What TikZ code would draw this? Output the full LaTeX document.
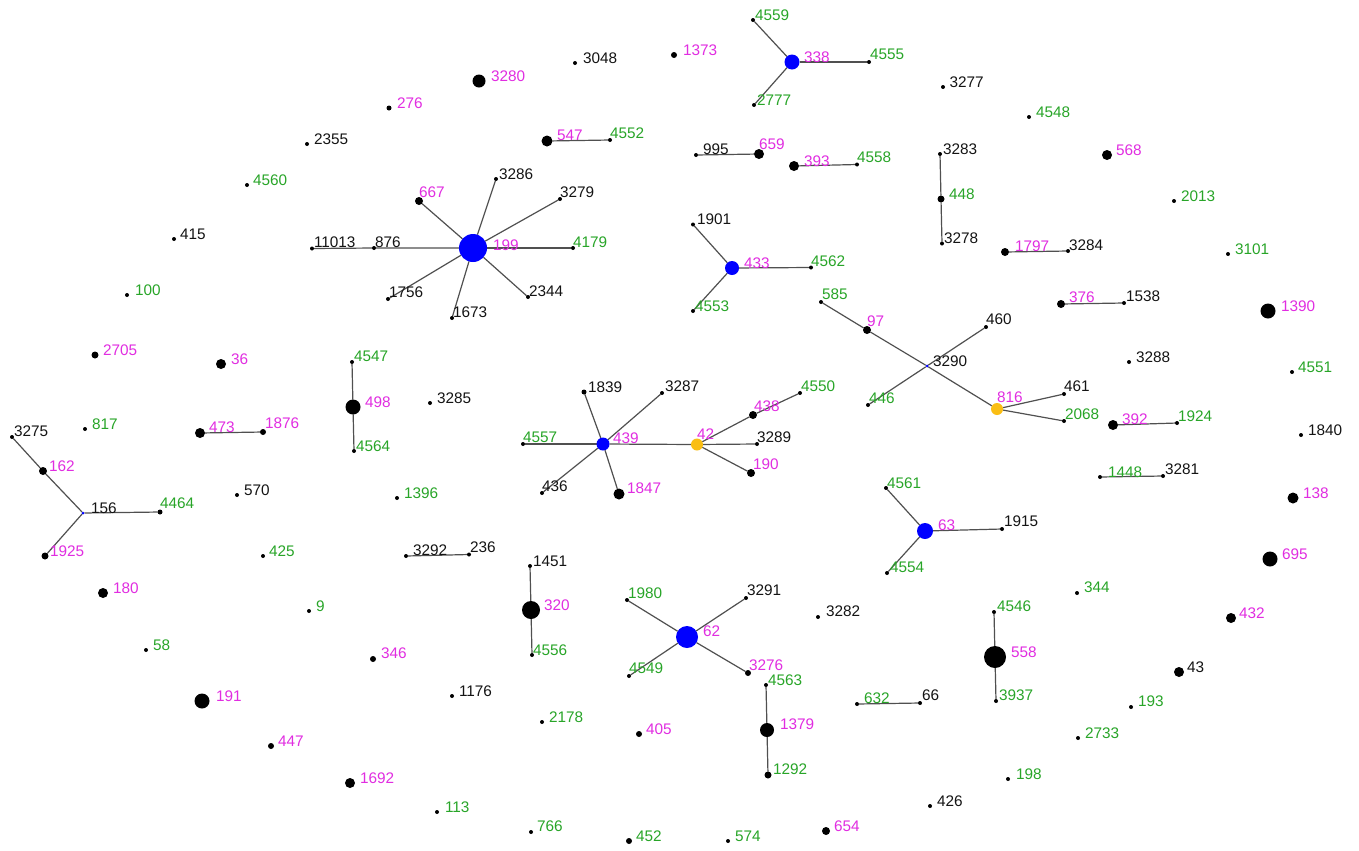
\documentclass[tikz,border=0pt]{standalone}
\usepackage{fontspec}
\setmainfont{Liberation Sans}
\usetikzlibrary{backgrounds}
\definecolor{labmag}{RGB}{225,45,225}
\definecolor{labgrn}{RGB}{40,165,40}
\definecolor{labblk}{RGB}{20,20,20}
\definecolor{hubblue}{RGB}{0,0,255}
\definecolor{hubgold}{RGB}{250,190,20}
\definecolor{edgegray}{RGB}{80,80,80}
\newcommand{\labfont}{\fontsize{11.5}{13}\selectfont}
\tikzset{
  vtx/.style={circle, fill=black, draw=none, inner sep=0pt, outer sep=0pt, minimum size=#1*0.75pt},
  bl/.style={fill=hubblue},
  gd/.style={fill=hubgold},
  lbl/.style={anchor=base west, inner sep=0pt, outer sep=0pt, font=\labfont},
  lm/.style n args={3}{append after command={node[lbl, text=labmag] at ([shift={(#1,#2)}]\tikzlastnode.center) {#3}}},
  lg/.style n args={3}{append after command={node[lbl, text=labgrn] at ([shift={(#1,#2)}]\tikzlastnode.center) {#3}}},
  lk/.style n args={3}{append after command={node[lbl, text=labblk] at ([shift={(#1,#2)}]\tikzlastnode.center) {#3}}},
  edge/.style={draw=edgegray, line width=0.9pt}
}
\begin{document}
\begin{tikzpicture}[x=0.75pt, y=-0.75pt]
\useasboundingbox (0,0) rectangle (1359,850);

% isolated vertices
\node[vtx=4, lk={7}{0}{2355}] (n2355) at (307,144) {};
\node[vtx=4, lg={6}{0}{4560}] (n4560) at (247,185) {};
\node[vtx=4, lk={6}{0}{415}] (n415) at (174,239) {};
\node[vtx=5, lm={8}{0}{276}] (n276) at (389,108) {};
\node[vtx=13, lm={12}{0}{3280}] (n3280) at (479,81) {};
\node[vtx=4, lk={8}{0}{3048}] (n3048) at (575,63) {};
\node[vtx=6, lm={9}{0}{1373}] (n1373) at (674,55) {};
\node[vtx=4, lg={8}{0}{100}] (n100) at (127,295) {};
\node[vtx=7, lm={8}{0}{2705}] (n2705) at (95,355) {};
\node[vtx=10, lm={10}{0}{36}] (n36) at (221,364) {};
\node[vtx=4, lg={7}{0}{817}] (n817) at (85,429) {};
\node[vtx=4, lk={7}{0}{570}] (n570) at (237,495) {};
\node[vtx=4, lg={6}{0}{425}] (n425) at (263,556) {};
\node[vtx=4, lk={7}{0}{3285}] (n3285) at (430,403) {};
\node[vtx=4, lg={7}{0}{1396}] (n1396) at (397,498) {};
\node[vtx=10, lm={10}{0}{180}] (n180) at (103,593) {};
\node[vtx=4, lg={7}{0}{9}] (n9) at (309,611) {};
\node[vtx=4, lg={7}{0}{58}] (n58) at (146,650) {};
\node[vtx=15, lm={14}{0}{191}] (n191) at (202,701) {};
\node[vtx=6, lm={7}{0}{447}] (n447) at (271,746) {};
\node[vtx=6, lm={8}{-1}{346}] (n346) at (373,659) {};
\node[vtx=4, lk={7}{0}{1176}] (n1176) at (452,696) {};
\node[vtx=4, lg={7}{0}{2178}] (n2178) at (542,722) {};
\node[vtx=6, lm={7}{0}{405}] (n405) at (639,734) {};
\node[vtx=10, lm={10}{0}{1692}] (n1692) at (350,783) {};
\node[vtx=4, lg={8}{0}{113}] (n113) at (437,812) {};
\node[vtx=4, lg={6}{-1}{766}] (n766) at (531,832) {};
\node[vtx=6, lg={7}{0}{452}] (n452) at (629,841) {};
\node[vtx=4, lg={7}{0}{574}] (n574) at (728,841) {};
\node[vtx=8, lm={8}{0}{654}] (n654) at (826,831) {};
\node[vtx=4, lk={7}{0}{426}] (n426) at (930,806) {};
\node[vtx=4, lg={8}{0}{198}] (n198) at (1008,779) {};
\node[vtx=4, lk={8}{-1}{3282}] (n3282) at (818,617) {};
\node[vtx=4, lg={7}{-1}{344}] (n344) at (1077,593) {};
\node[vtx=10, lm={8}{0}{432}] (n432) at (1231,618) {};
\node[vtx=10, lk={8}{0}{43}] (n43) at (1179,672) {};
\node[vtx=4, lg={7}{-1}{193}] (n193) at (1131,707) {};
\node[vtx=4, lg={7}{0}{2733}] (n2733) at (1078,738) {};
\node[vtx=4, lk={6.5}{0}{3277}] (n3277) at (943,87) {};
\node[vtx=4, lg={7}{0}{4548}] (n4548) at (1029,117) {};
\node[vtx=10, lm={9}{0}{568}] (n568) at (1107,155) {};
\node[vtx=4, lg={7}{0}{2013}] (n2013) at (1174,201) {};
\node[vtx=4, lg={7}{0}{3101}] (n3101) at (1228,254) {};
\node[vtx=15, lm={13}{0}{1390}] (n1390) at (1268,311) {};
\node[vtx=4, lk={7}{0}{3288}] (n3288) at (1129,362) {};
\node[vtx=4, lg={6}{0}{4551}] (n4551) at (1292,372) {};
\node[vtx=4, lk={7}{0}{1840}] (n1840) at (1301,435) {};
\node[vtx=11, lm={10}{0}{138}] (n138) at (1293,498) {};
\node[vtx=15, lm={12}{0}{695}] (n695) at (1270,559) {};

% star around 199
\node[vtx=28, bl, lm={20}{2}{199}] (n199) at (473,248) {};
\node[vtx=4, lk={2}{-1}{11013}] (n11013) at (312,248.5) {};
\node[vtx=4, lk={1}{-1}{876}] (n876) at (374,248) {};
\node[vtx=8, lm={0}{-4}{667}] (n667) at (419,201) {};
\node[vtx=4, lk={3}{0}{3286}] (n3286) at (496,179) {};
\node[vtx=4, lk={0}{-2}{3279}] (n3279) at (560,199) {};
\node[vtx=4, lg={0}{-1}{4179}] (n4179) at (573,248) {};
\node[vtx=4, lk={1}{-1}{2344}] (n2344) at (528,297) {};
\node[vtx=4, lk={1}{-1}{1673}] (n1673) at (452,318) {};
\node[vtx=4, lk={1}{-2}{1756}] (n1756) at (388,299) {};

% small components, top
\node[vtx=11, lm={10}{-1}{547}] (n547) at (547,141) {};
\node[vtx=4, lg={0}{-2}{4552}] (n4552) at (610,140) {};
\node[vtx=15, bl, lm={12}{0}{338}] (n338) at (792,62) {};
\node[vtx=4, lg={2}{0}{4559}] (n4559) at (753,20) {};
\node[vtx=4, lg={1}{-2.5}{4555}] (n4555) at (869,62) {};
\node[vtx=4, lg={3}{0}{2777}] (n2777) at (754,105) {};
\node[vtx=4, lk={7}{-1}{995}] (n995) at (696,155) {};
\node[vtx=10, lm={0}{-5}{659}] (n659) at (759,154) {};
\node[vtx=10, lm={10}{0}{393}] (n393) at (794,166) {};
\node[vtx=4, lg={0}{-2}{4558}] (n4558) at (857,164.5) {};
\node[vtx=4, lk={3}{0}{3283}] (n3283) at (940,154) {};
\node[vtx=7, lg={8}{0}{448}] (n448) at (941,199) {};
\node[vtx=4, lk={2}{0}{3278}] (n3278) at (942,243.5) {};
\node[vtx=8, lm={10}{-1}{1797}] (n1797) at (1005,252) {};
\node[vtx=4, lk={1}{-1}{3284}] (n3284) at (1068,251) {};
\node[vtx=14, bl, lm={12}{0}{433}] (n433) at (732,268) {};
\node[vtx=4, lk={4}{0}{1901}] (n1901) at (693,224.5) {};
\node[vtx=4, lg={0}{-1}{4562}] (n4562) at (811,267.5) {};
\node[vtx=4, lg={2}{0}{4553}] (n4553) at (693,311) {};
\node[vtx=8, lm={8}{-2}{376}] (n376) at (1061,304) {};
\node[vtx=4, lk={2}{-2}{1538}] (n1538) at (1124,303) {};

% chain through 3290
\node[vtx=3, bl, lk={6}{0}{3290}] (n3290) at (927,366) {};
\node[vtx=4, lg={1}{-3}{585}] (n585) at (821,302) {};
\node[vtx=8, lm={0}{-4}{97}] (n97) at (867,330) {};
\node[vtx=4, lk={0}{-2.5}{460}] (n460) at (986,327) {};
\node[vtx=4, lg={1}{-2}{446}] (n446) at (868,405) {};
\node[vtx=12, gd, lm={0}{-7}{816}] (n816) at (997,409) {};
\node[vtx=4, lk={0}{-3}{461}] (n461) at (1064,394) {};
\node[vtx=4, lg={1}{-2}{2068}] (n2068) at (1064,421) {};
\node[vtx=10, lm={9}{-1}{392}] (n392) at (1113,425) {};
\node[vtx=4, lg={1}{-2}{1924}] (n1924) at (1177,423) {};
\node[vtx=4, lg={8}{0}{1448}] (n1448) at (1100,477) {};
\node[vtx=4, lk={2}{-2}{3281}] (n3281) at (1163,476) {};

% star around 439 and 42
\node[vtx=13, bl, lm={10}{-1}{439}] (n439) at (603,444) {};
\node[vtx=5, lk={4}{0}{1839}] (n1839) at (584,392) {};
\node[vtx=4, lk={3}{-2}{3287}] (n3287) at (662,393) {};
\node[vtx=4, lg={0}{-2}{4557}] (n4557) at (523,444) {};
\node[vtx=4, lk={0}{-2}{436}] (n436) at (542,493) {};
\node[vtx=11, lm={8}{-1}{1847}] (n1847) at (619,494) {};
\node[vtx=12, gd, lm={0}{-5.5}{42}] (n42) at (697,444.5) {};
\node[vtx=8, lm={1}{-4}{438}] (n438) at (753,415) {};
\node[vtx=4, lg={1}{-2}{4550}] (n4550) at (800,393) {};
\node[vtx=4, lk={0}{-2}{3289}] (n3289) at (757,444) {};
\node[vtx=8, lm={2}{-4}{190}] (n190) at (751,473) {};

% star around 63
\node[vtx=16, bl, lm={13}{-1}{63}] (n63) at (925,531) {};
\node[vtx=4, lg={1}{0}{4561}] (n4561) at (886,488) {};
\node[vtx=4, lk={2}{-3}{1915}] (n1915) at (1002,529) {};
\node[vtx=4, lg={3}{-1}{4554}] (n4554) at (887,573) {};

% left side components
\node[vtx=10, lm={9}{-1}{473}] (n473) at (200,433) {};
\node[vtx=6, lm={2}{-4}{1876}] (n1876) at (263,432) {};
\node[vtx=15, lm={12}{0}{498}] (n498) at (353,407) {};
\node[vtx=4, lg={2}{-1}{4547}] (n4547) at (352,362) {};
\node[vtx=4, lg={2}{0}{4564}] (n4564) at (354,451) {};
\node[vtx=3, bl, lk={8}{0}{156}] (n156) at (83,513) {};
\node[vtx=8, lm={6}{0}{162}] (n162) at (43,471) {};
\node[vtx=4, lk={2}{-1}{3275}] (n3275) at (12,437) {};
\node[vtx=5, lg={0}{-4}{4464}] (n4464) at (160,512) {};
\node[vtx=7, lm={5}{0}{1925}] (n1925) at (45,556) {};
\node[vtx=4, lk={7}{-1}{3292}] (n3292) at (406,556) {};
\node[vtx=4, lk={1}{-2}{236}] (n236) at (469,554.5) {};

% bottom components
\node[vtx=18, lm={13}{0}{320}] (n320) at (531,610) {};
\node[vtx=4, lk={3}{0}{1451}] (n1451) at (530,566) {};
\node[vtx=4, lg={1}{0}{4556}] (n4556) at (532,655) {};
\node[vtx=22, bl, lm={16}{-1}{62}] (n62) at (687,637) {};
\node[vtx=4, lg={1}{-2}{1980}] (n1980) at (627,600) {};
\node[vtx=4, lk={1}{-3}{3291}] (n3291) at (746,598) {};
\node[vtx=6, lm={1}{-3}{3276}] (n3276) at (748,673) {};
\node[vtx=4, lg={0}{-3}{4549}] (n4549) at (629,676) {};
\node[vtx=14, lm={13}{-1}{1379}] (n1379) at (767,730) {};
\node[vtx=4, lg={2}{0}{4563}] (n4563) at (766,685) {};
\node[vtx=7, lg={5}{-1}{1292}] (n1292) at (768,775) {};
\node[vtx=4, lg={7}{-1}{632}] (n632) at (857,704) {};
\node[vtx=4, lk={2}{-3}{66}] (n66) at (920,703) {};
\node[vtx=22, lm={16}{0}{558}] (n558) at (995,657) {};
\node[vtx=4, lg={3}{-1}{4546}] (n4546) at (994,612) {};
\node[vtx=4, lg={3}{-1}{3937}] (n3937) at (996,701) {};

% connectors, drawn beneath the vertices and their numbers
\begin{scope}[on background layer]
\fill[white] (0,0) rectangle (1359,850);
\draw[edge] (n11013) -- (n876) -- (n199);
\draw[edge] (n199) -- (n667);
\draw[edge] (n199) -- (n3286);
\draw[edge] (n199) -- (n3279);
\draw[edge] (n199) -- (n4179);
\draw[edge] (n199) -- (n2344);
\draw[edge] (n199) -- (n1673);
\draw[edge] (n199) -- (n1756);
\draw[edge] (n547) -- (n4552);
\draw[edge] (n338) -- (n4559);
\draw[edge] (n338) -- (n4555);
\draw[edge] (n338) -- (n2777);
\draw[edge] (n995) -- (n659);
\draw[edge] (n393) -- (n4558);
\draw[edge] (n3283) -- (n448) -- (n3278);
\draw[edge] (n1797) -- (n3284);
\draw[edge] (n433) -- (n1901);
\draw[edge] (n433) -- (n4562);
\draw[edge] (n433) -- (n4553);
\draw[edge] (n376) -- (n1538);
\draw[edge] (n585) -- (n97) -- (n3290) -- (n816);
\draw[edge] (n3290) -- (n460);
\draw[edge] (n3290) -- (n446);
\draw[edge] (n816) -- (n461);
\draw[edge] (n816) -- (n2068);
\draw[edge] (n392) -- (n1924);
\draw[edge] (n1448) -- (n3281);
\draw[edge] (n439) -- (n1839);
\draw[edge] (n439) -- (n3287);
\draw[edge] (n439) -- (n4557);
\draw[edge] (n439) -- (n436);
\draw[edge] (n439) -- (n1847);
\draw[edge] (n439) -- (n42);
\draw[edge] (n42) -- (n438) -- (n4550);
\draw[edge] (n42) -- (n3289);
\draw[edge] (n42) -- (n190);
\draw[edge] (n63) -- (n4561);
\draw[edge] (n63) -- (n1915);
\draw[edge] (n63) -- (n4554);
\draw[edge] (n473) -- (n1876);
\draw[edge] (n4547) -- (n498) -- (n4564);
\draw[edge] (n3275) -- (n162) -- (n156);
\draw[edge] (n156) -- (n4464);
\draw[edge] (n156) -- (n1925);
\draw[edge] (n3292) -- (n236);
\draw[edge] (n1451) -- (n320) -- (n4556);
\draw[edge] (n62) -- (n1980);
\draw[edge] (n62) -- (n3291);
\draw[edge] (n62) -- (n3276);
\draw[edge] (n62) -- (n4549);
\draw[edge] (n4563) -- (n1379) -- (n1292);
\draw[edge] (n632) -- (n66);
\draw[edge] (n4546) -- (n558) -- (n3937);
\end{scope}
\end{tikzpicture}
\end{document}
